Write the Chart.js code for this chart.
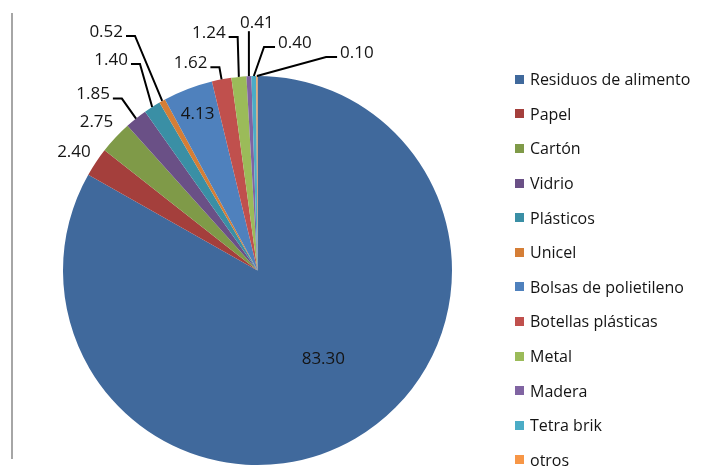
<!DOCTYPE html>
<html lang="es">
<head>
<meta charset="utf-8">
<script src="https://cdn.jsdelivr.net/npm/chart.js@4.4.1/dist/chart.umd.min.js"></script>
<style>
  html, body { margin: 0; padding: 0; background: #fff; }
  #wrap { position: relative; width: 701px; height: 470px; overflow: hidden; }
  #chart { position: absolute; left: 0; top: 0; }
  #edge { position: absolute; left: 11px; top: 13px; width: 2px; height: 446px; background: #a6a6a6; }
  #legend { position: absolute; left: 515px; top: 62px; margin: 0; padding: 0; list-style: none;
    font-family: "Open Sans", sans-serif; font-size: 16px; color: #141414; }
  #legend li { height: 34.6px; display: flex; align-items: center; white-space: nowrap; }
  #legend .box { width: 9px; height: 9px; margin-right: 6px; flex: none; }
</style>
</head>
<body>
<div id="wrap">
  <div id="edge"></div>
  <canvas id="chart" width="701" height="470"></canvas>
  <ul id="legend"></ul>
</div>
<script>
// Datos del gráfico
const categorias = ["Residuos de alimento", "Papel", "Cartón", "Vidrio", "Plásticos", "Unicel",
  "Bolsas de polietileno", "Botellas plásticas", "Metal", "Madera", "Tetra brik", "otros"];
const porcentajes = [83.30, 2.40, 2.75, 1.85, 1.40, 0.52, 4.13, 1.62, 1.24, 0.41, 0.40, 0.10];
const colores = ["#40699c", "#a43f3c", "#7f9a48", "#6a5086", "#3a8fa5", "#d57e36",
  "#4f81bd", "#c0504d", "#9bbb59", "#8064a2", "#4bacc6", "#f79646"];

// Posición de cada etiqueta respecto al borde (o interior) de su porción
const etiquetas = [
  { r: 0.57, dx: 10, dy: -7, line: null },
  { r: 1, dx: -22, dy: -10, line: null },
  { r: 1, dx: -19, dy: -15, line: null },
  { r: 1, dx: -43, dy: -24, line: "right" },
  { r: 1, dx: -41, dy: -47, line: "right" },
  { r: 1, dx: -56, dy: -69, line: "right" },
  { r: 0.86, dx: 0, dy: 0, line: null },
  { r: 1, dx: -31, dy: -16, line: "right" },
  { r: 1, dx: -30, dy: -44, line: "right" },
  { r: 1, dx: 8, dy: -53, line: "bottom" },
  { r: 1, dx: 41, dy: -33, line: "left" },
  { r: 1, dx: 100, dy: -23, line: "left" }
];

// Plugin para dibujar los valores con líneas guía
const valoresPlugin = {
  id: "valores",
  afterDatasetsDraw(chart) {
    const ctx = chart.ctx;
    const meta = chart.getDatasetMeta(0);
    ctx.save();
    ctx.font = "17px 'Open Sans', sans-serif";
    ctx.fillStyle = "#141414";
    ctx.strokeStyle = "#000";
    ctx.lineWidth = 2;
    ctx.textAlign = "center";
    ctx.textBaseline = "middle";

    meta.data.forEach((arc, i) => {
      const p = arc.getProps(["x", "y", "startAngle", "endAngle", "outerRadius"], true);
      const mid = (p.startAngle + p.endAngle) / 2;
      const cfg = etiquetas[i];
      const ex = p.x + Math.cos(mid) * p.outerRadius;
      const ey = p.y + Math.sin(mid) * p.outerRadius;
      const ax = p.x + Math.cos(mid) * p.outerRadius * cfg.r;
      const ay = p.y + Math.sin(mid) * p.outerRadius * cfg.r;
      const lx = ax + cfg.dx;
      const ly = ay + cfg.dy;
      const txt = porcentajes[i].toFixed(2);
      const w = ctx.measureText(txt).width;

      if (cfg.line) {
        ctx.beginPath();
        if (cfg.line === "right") {
          const sx = lx + w / 2 + 3;
          ctx.moveTo(sx, ly + 4);
          ctx.lineTo(sx + 9, ly + 4);
        } else if (cfg.line === "left") {
          const sx = lx - w / 2 - 3;
          ctx.moveTo(sx, ly + 4);
          ctx.lineTo(sx - 11, ly + 4);
        } else {
          ctx.moveTo(ex, ly + 8);
        }
        ctx.lineTo(ex, ey);
        ctx.stroke();
      }
      ctx.fillText(txt, lx, ly);
    });
    ctx.restore();
  }
};

const chart = new Chart(document.getElementById("chart"), {
  type: "pie",
  data: {
    labels: categorias,
    datasets: [{
      data: porcentajes,
      backgroundColor: colores,
      borderWidth: 0
    }]
  },
  options: {
    responsive: false,
    animation: false,
    devicePixelRatio: 1,
    layout: { padding: { left: 63, top: 76, right: 249, bottom: 5 } },
    plugins: {
      legend: { display: false },
      tooltip: { enabled: false }
    },
    events: []
  },
  plugins: [valoresPlugin]
});

// Leyenda
const legend = document.getElementById("legend");
categorias.forEach((nombre, i) => {
  const li = document.createElement("li");
  li.innerHTML = `<span class="box" style="background:${colores[i]}"></span>${nombre}`;
  legend.appendChild(li);
});
</script>
</body>
</html>
